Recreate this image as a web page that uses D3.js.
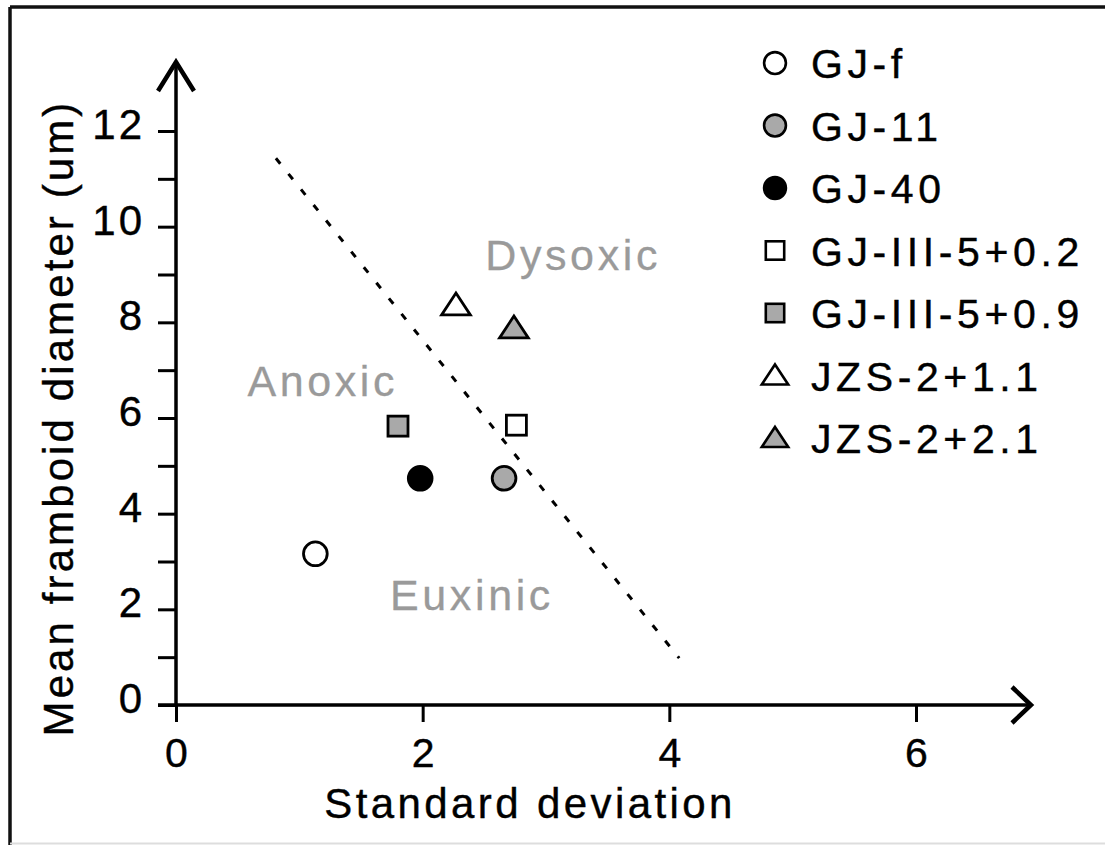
<!DOCTYPE html>
<html>
<head>
<meta charset="utf-8">
<script src="https://cdn.jsdelivr.net/npm/d3@7"></script>
<style>
body { margin: 0; background: #fff; }
text { font-family: "Liberation Sans", Arial, sans-serif; }
</style>
</head>
<body>
<div id="canvas"></div>
<script>
// ----------------------------------------------------------
// DATA -----------------------------------------------------
// ----------------------------------------------------------
var samples = ["GJ-f", "GJ-11", "GJ-40", "GJ-III-5+0.2", "GJ-III-5+0.9", "JZS-2+1.1", "JZS-2+2.1"];
var std_dev = [1.13, 2.66, 1.98, 2.76, 1.80, 2.27, 2.74];
var mean_diameter = [3.16, 4.74, 4.74, 5.85, 5.83, 8.36, 7.88];

// dotted boundary between euxinic/anoxic and dysoxic fields
var boundary_sd = [0.81, 4.08];
var boundary_mean = [11.43, 0.98];

var region_names = ["Dysoxic", "Anoxic", "Euxinic"];

var x_ticks = [0, 2, 4, 6];
var y_ticks = [0, 1, 2, 3, 4, 5, 6, 7, 8, 9, 10, 11, 12];
var y_tick_labels = ["0", "", "2", "", "4", "", "6", "", "8", "", "10", "", "12"];

// ----------------------------------------------------------
// SETTINGS -------------------------------------------------
// ----------------------------------------------------------
var data_set = {
  container_width: 1105,
  container_height: 845,
  x0: 176, x1: 916,
  y0: 705, y1: 131,
  color_gray_fill: "#a9a9a9",
  color_region: "#9a9a9a",
  color_text: "#000"
};

// marker style per sample
var marker_style = {
  "GJ-f":         { shape: "circle",   fill: "#fff" },
  "GJ-11":        { shape: "circle",   fill: data_set.color_gray_fill },
  "GJ-40":        { shape: "circle",   fill: "#000" },
  "GJ-III-5+0.2": { shape: "square",   fill: "#fff" },
  "GJ-III-5+0.9": { shape: "square",   fill: data_set.color_gray_fill },
  "JZS-2+1.1":    { shape: "triangle", fill: "#fff" },
  "JZS-2+2.1":    { shape: "triangle", fill: data_set.color_gray_fill }
};

// region label anchors (data coordinates, text centre / baseline)
var region_layout = {
  "Dysoxic": [3.22, 9.1],
  "Anoxic":  [1.19, 6.45],
  "Euxinic": [2.40, 1.98]
};

var points = samples.map(function (s, i) {
  return { name: s, sd: std_dev[i], mean: mean_diameter[i] };
});

// ----------------------------------------------------------
// STRUCTURE ------------------------------------------------
// ----------------------------------------------------------
var container = d3.select("#canvas").append("svg")
  .attr("width", data_set.container_width)
  .attr("height", data_set.container_height)
  .style("background-color", "#fff")
  .style("display", "block");

var xScale = d3.scaleLinear().domain([0, 6]).range([data_set.x0, data_set.x1]);
var yScale = d3.scaleLinear().domain([0, 12]).range([data_set.y0, data_set.y1]);

// frame
var frame = container.append("g").attr("class", "frame");
frame.append("line").attr("x1", 10).attr("y1", 7).attr("x2", 1105).attr("y2", 7)
  .attr("stroke", "#111").attr("stroke-width", 3.5);
frame.append("line").attr("x1", 10).attr("y1", 7).attr("x2", 10).attr("y2", 845)
  .attr("stroke", "#111").attr("stroke-width", 3.5);
frame.append("line").attr("x1", 10).attr("y1", 843.5).attr("x2", 1105).attr("y2", 843.5)
  .attr("stroke", "#ddd").attr("stroke-width", 2);

// ----------------------------------------------------------
// AXES -----------------------------------------------------
// ----------------------------------------------------------
var axis_group = container.append("g").attr("class", "axis_group");

var yAxis = d3.axisLeft(yScale)
  .tickValues(y_ticks)
  .tickSize(18)
  .tickPadding(13)
  .tickFormat(function (d, i) { return y_tick_labels[i]; });

var gy = axis_group.append("g")
  .attr("transform", `translate(${data_set.x0}, 0)`)
  .call(yAxis);
gy.select(".domain").remove();
gy.selectAll(".tick line").attr("stroke", "#000").attr("stroke-width", 3);
gy.selectAll(".tick text")
  .attr("font-size", 42).attr("fill", data_set.color_text)
  .attr("stroke", data_set.color_text).attr("stroke-width", 0.4)
  .attr("letter-spacing", 3)
  .attr("dy", "0.18em");

var xAxis = d3.axisBottom(xScale)
  .tickValues(x_ticks)
  .tickSize(17)
  .tickPadding(16)
  .tickFormat(d3.format("d"));

var gx = axis_group.append("g")
  .attr("transform", `translate(0, ${data_set.y0})`)
  .call(xAxis);
gx.select(".domain").remove();
gx.selectAll(".tick line").attr("stroke", "#000").attr("stroke-width", 3);
gx.selectAll(".tick text")
  .attr("font-size", 41).attr("fill", data_set.color_text)
  .attr("stroke", data_set.color_text).attr("stroke-width", 0.4);

// axis lines with open arrow heads
var y_tip = 62, x_tip = 1031;
axis_group.append("line")
  .attr("x1", data_set.x0).attr("y1", data_set.y0 + 2)
  .attr("x2", data_set.x0).attr("y2", y_tip + 2)
  .attr("stroke", "#000").attr("stroke-width", 3.5);
axis_group.append("path")
  .attr("d", `M${data_set.x0 - 18},${y_tip + 29} L${data_set.x0},${y_tip} L${data_set.x0 + 18},${y_tip + 29}`)
  .attr("fill", "none").attr("stroke", "#000").attr("stroke-width", 4.5)
  .attr("stroke-linejoin", "miter");

axis_group.append("line")
  .attr("x1", data_set.x0 - 18).attr("y1", data_set.y0)
  .attr("x2", x_tip - 2).attr("y2", data_set.y0)
  .attr("stroke", "#000").attr("stroke-width", 3.5);
axis_group.append("path")
  .attr("d", `M${x_tip - 19},${data_set.y0 - 18} L${x_tip},${data_set.y0} L${x_tip - 19},${data_set.y0 + 18}`)
  .attr("fill", "none").attr("stroke", "#000").attr("stroke-width", 4.5);

// axis titles
axis_group.append("text")
  .attr("x", 530).attr("y", 818)
  .attr("text-anchor", "middle")
  .attr("font-size", 42)
  .attr("letter-spacing", 3.4)
  .attr("fill", data_set.color_text)
  .attr("stroke", data_set.color_text).attr("stroke-width", 0.4)
  .text("Standard deviation");

axis_group.append("text")
  .attr("transform", "translate(73, 418) rotate(-90)")
  .attr("text-anchor", "middle")
  .attr("font-size", 42)
  .attr("letter-spacing", 3.1)
  .attr("fill", data_set.color_text)
  .attr("stroke", data_set.color_text).attr("stroke-width", 0.4)
  .text("Mean framboid diameter (um)");

// ----------------------------------------------------------
// GFX ------------------------------------------------------
// ----------------------------------------------------------
var gfx_group = container.append("g").attr("class", "gfx_group");

// boundary
gfx_group.append("line")
  .attr("x1", xScale(boundary_sd[0])).attr("y1", yScale(boundary_mean[0]))
  .attr("x2", xScale(boundary_sd[1])).attr("y2", yScale(boundary_mean[1]))
  .attr("stroke", "#000").attr("stroke-width", 3)
  .attr("stroke-dasharray", "7,13");

// region labels
gfx_group.selectAll(".region")
  .data(region_names)
  .enter()
  .append("text")
  .attr("class", "region")
  .attr("x", (d) => xScale(region_layout[d][0]))
  .attr("y", (d) => yScale(region_layout[d][1]))
  .attr("text-anchor", "middle")
  .attr("font-size", 43)
  .attr("letter-spacing", 3.6)
  .attr("fill", data_set.color_region)
  .attr("stroke", data_set.color_region).attr("stroke-width", 0.3)
  .text((d) => d);

function drawMarker(sel, shape, size) {
  if (shape === "circle") {
    sel.append("circle").attr("r", size * 0.95);
  } else if (shape === "square") {
    sel.append("rect")
      .attr("x", -size * 0.8).attr("y", -size * 0.8)
      .attr("width", size * 1.6).attr("height", size * 1.6);
  } else {
    var w = size * 1.15, h = size * 1.75;
    sel.append("path")
      .attr("d", `M0,${-h * 0.55} L${w},${h * 0.45} L${-w},${h * 0.45} Z`);
  }
}

var gfx_point = gfx_group.selectAll(".gfx_point")
  .data(points)
  .enter()
  .append("g")
  .attr("class", "gfx_point")
  .attr("transform", (d) => `translate(${xScale(d.sd)}, ${yScale(d.mean)})`);

gfx_point.each(function (d) {
  drawMarker(d3.select(this), marker_style[d.name].shape, 12.5);
});
gfx_point.selectAll("circle, rect, path")
  .attr("fill", function () { return marker_style[d3.select(this.parentNode).datum().name].fill; })
  .attr("stroke", "#000").attr("stroke-width", 2.8);

// ----------------------------------------------------------
// LEGEND ---------------------------------------------------
// ----------------------------------------------------------
var legend_group = container.append("g").attr("class", "legend_group");
var legend_y = d3.scalePoint().domain(samples).range([63, 438]);

var legend_item = legend_group.selectAll(".legend_item")
  .data(samples)
  .enter()
  .append("g")
  .attr("class", "legend_item")
  .attr("transform", (d) => `translate(775, ${legend_y(d)})`);

legend_item.each(function (d) {
  drawMarker(d3.select(this), marker_style[d].shape, 11.5);
});
legend_item.selectAll("circle, rect, path")
  .attr("fill", function () { return marker_style[d3.select(this.parentNode).datum()].fill; })
  .attr("stroke", "#000").attr("stroke-width", 2.6);

legend_item.append("text")
  .attr("x", 36).attr("y", 15)
  .attr("font-size", 41)
  .attr("letter-spacing", 4.6)
  .attr("fill", data_set.color_text)
  .attr("stroke", data_set.color_text).attr("stroke-width", 0.4)
  .text((d) => d);
</script>
</body>
</html>
